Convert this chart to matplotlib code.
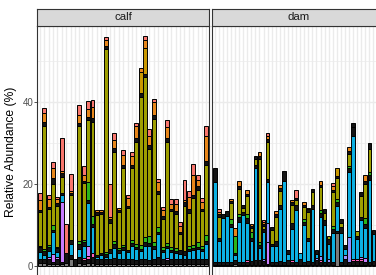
import numpy as np
import matplotlib.pyplot as plt

plt.rcParams['font.family'] = ['Liberation Sans', 'DejaVu Sans']

# --- data: relative abundance (%) per taxon, one value per sample ---
panels = ["calf", "dam"]
taxa = ["gray", "dk1", "pink", "violet", "lavender", "cyan", "dk2",
        "green", "olive", "dk3", "golden", "orange", "salmon"]
colors = {"gray": "#7A7A7A", "dk1": "#141414", "pink": "#FF62BC",
          "violet": "#C77CFF", "lavender": "#9590FF", "cyan": "#0CB0E2",
          "dk2": "#141414", "green": "#2BB51A", "olive": "#9E9E00",
          "dk3": "#141414", "golden": "#C99800", "orange": "#E7861A",
          "salmon": "#F8766D"}

calf_gray = [.8, .8, .6, .6, .6, .4, .8, 1.6, 0, .8, .6, .8, .8, .6, .6, .6, .6, .6, .6, .6,
             .6, .6, .6, .6, .6, .6, .6, .6, .6, .4, .6, .6, .6, .6, .6, .6, .6, .6, .6]
calf_dk1 = [1, 1, 1.2, .5, 1, .6, 2.3, 1, 1.6, 1.4, .8, .8, 1.5, 1, 1.2, 1, 1, 1.4, 1, 1.2,
            1.2, 1.2, .8, 1, 1, .8, 1, 1.5, 1, 1, 1.2, 1, 1, 1, 1, 1, 1, 1, 1.2]
calf_pink = [0, 0, 0, 0, 0, 0, 0, 0, 0, 0, .6, .8, .8, 0, 0, 0, 0, 0, 0, 0,
             0, 0, 0, 0, 0, 0, 0, 0, 0, 0, 0, 0, 0, 0, 0, 0, 0, 0, 0]
calf_violet = [0, 0, .4, 1.8, .6, 14.7, 0, 0, 0, 0, 0, 2.5, 0, 0, 0, 0, 0, 0, 0, 0,
               0, 0, 0, 0, 0, 0, 0, 0, 0, .6, 0, 0, 0, 0, 0, 0, 0, 0, 0]
calf_lavender = [0] * 39
calf_cyan = [1.6, .8, 1.5, 5.3, 1.3, 1.6, 0, 2.8, 0, 2, 3, 10.5, 6.5, .6, .8, .6, 1.5, 2.4, 1.5, 2,
             1.5, 3.2, 2.7, 2, 3.4, 3.4, 2.5, 5.7, 1.8, 2.4, 1.5, 1.5, 1.4, 1.2, 2, 2.2, 2.5, 2, 3.6]
calf_dk2 = [1.2, 1, 1, .6, .8, .5, 0, 1, 0, 1.2, .8, .6, .6, .6, .5, .8, 1, 1, .8, .8,
            .6, .6, .6, .6, .8, .8, .8, .6, .6, .6, .6, .6, .8, .8, .6, .6, .6, .6, .8]
calf_green = [.4, .6, .5, 1.2, .4, 0, 0, 0, 0, .6, .6, 4.5, 2, 0, 0, .4, 0, .8, .4, .6,
              0, .8, .6, 1, 1.2, 1.6, 1, 1, .6, .6, .8, .6, 0, 0, .8, .8, 1.2, .6, 1.4]
calf_olive = [8.2, 30, 8.6, 10, 10, 4, 0, 10.8, 0, 28.1, 13.8, 15, 22.8, 9.7, 9.6, 49.4, 6.4, 21.5, 8.8, 18.8,
              10.3, 17.6, 25, 36, 39, 21.4, 30, 8.2, 6.9, 24.6, 8.6, 8.5, 4, 11, 8, 11.4, 12.7, 8.5, 17]
calf_dk3 = [.4, .8, .5, 1.4, .6, .8, 0, .5, 0, .8, .6, .8, 1, .6, .5, .8, 1, 1, .5, .6,
            .5, .6, .8, 1, .8, 1, 1, .6, .6, 1, .6, .6, .6, 1, .8, .8, .8, .6, 1]
calf_golden = [0, 0, 0, 0, 0, 0, 0, 0, 0, 0, 0, 0, 0, 0, 0, 0, 0, 0, 0, 0,
               0, 0, 0, 5, 6.3, 0, 0, 0, 0, 0, 0, 0, 0, 0, 0, 0, 0, 0, 0]
calf_orange = [2.5, 2.2, 2, 2.5, 1, .5, 0, .5, 0, 2, 1.5, 1.9, 2.8, .6, .5, 1.4, .5, 2, .5, 2.5,
               1.8, 2.3, 3, 1, 2, 2.2, 3, 2.2, 1.5, 2.6, 1.2, 1.8, 1.3, .5, 3, 4.8, 1.6, 1.6, 6]
calf_salmon = [1.8, 1.4, 1, 1.5, .6, 8, 7.1, 4.2, 0, 2.4, 2.1, 2, 1.6, 0, 0, .8, 7.9, 1.8, 0, 1.2,
               .7, .8, .7, 0, 1, 1.5, .8, .9, .7, 1.8, 1.2, 1.2, 1, 4.8, 1.6, 2.6, 1.2, 1.2, 2.5]

dam_gray = [.2, .2, .2, .2, .2, .4, .2, .2, .2, .2, .2, .2, .2, .2, .2, .2, .2, .2, .2, .2,
            .2, .2, .2, .2, .2, .2, .2, .2, .2, .2, 8, .2, .2, .2, .2, .2, .2, .2, .2, .2]
dam_dk1 = [.8, .8, .8, .8, .8, 1, .8, .8, .8, 1, 1.2, 1.2, 1, .4, .8, .8, 1, .8, 1.2, .8,
           .8, 1.4, .8, 1, .8, 1.2, .8, .8, .8, .8, .6, .8, 1.4, .8, 1, 1, 1, .8, .8, 1]
dam_pink = [0, 0, 0, 0, 0, 0, 0, 0, .4, 0, 0, 0, 0, 0, 0, 0, 0, 0, 0, .4,
            0, 0, 0, 0, 0, 0, .4, 0, 0, 0, 0, 0, 0, 0, .6, .6, .4, 0, 0, 0]
dam_violet = [0, 0, 0, 0, 0, 0, 0, 0, 0, 0, 0, 0, 0, 5.2, 0, 0, 0, 0, 0, 0,
              0, 0, 0, 0, 0, 0, 0, 0, 0, 0, 0, 0, 0, 0, 0, 0, .6, 1, 0, 0]
dam_lavender = [0, 0, 0, 0, 0, 0, 0, 0, 0, 0, 0, 0, .6, 4.8, 0, 0, 0, 0, 0, 0,
                0, 0, 0, 0, 0, .5, 1, 0, .8, 0, 0, 0, 1, 6, 0, 0, 0, 0, 0, 0]
dam_cyan = [19.6, 5, 10.8, 11.3, 8.5, 1.2, 9.8, 11.4, 9, 5, 22.6, 3, 6.4, 9.8, 3.8, 4, 12.8, 19.8, 1.5, 7.6,
            12.6, 1.5, 9, 4.8, 13, 1, 9.6, 9, 3.5, 7, 6, 7, 1.5, 16, 30, 4.8, 9, 7.2, 20, 6.5]
dam_dk2 = [3.4, .8, 1, 1.2, .8, .6, 1.2, .8, 1.4, .6, .6, .8, .8, .8, .6, 1, .8, 2.4, 1, 1.6,
           1.2, 0, .8, .8, .8, 1, 1, 1.2, 1.2, 1, 1, 1.4, 1, .8, 2, .8, .8, 1, 1.2, 1.2]
dam_green = [0, 0, 0, 0, 1.2, 4, .6, 0, .8, 1.4, 0, .6, 0, 0, 0, 0, 0, 0, 0, 0,
             0, 0, .6, 0, 0, 0, .6, 0, 0, .8, .8, 0, 0, .6, 0, 0, 0, 1.4, .8, 0]
dam_olive = [0, 5.2, 0, 0, 3.8, 0, 6.2, .9, 4.4, 1, 1.6, 20.4, .8, 9, 3.4, 6, 3.6, 0, 0, 4.4,
             1.4, 0, 3, 6.4, 3.3, 0, 5.6, 1.8, .8, 8.2, 5, 1.2, 0, 3, 0, 1.2, 5, 8.4, 5.6, 0]
dam_dk3 = [0, .6, 0, 0, .6, 0, .8, .8, .6, .5, .6, .7, .4, .8, .6, .6, .6, 0, 0, .6,
           .4, 0, .6, .6, .8, 0, .6, .8, 0, .6, .6, .8, 0, .7, 1, 0, 1, .8, 1.3, 0]
dam_golden = [0, 0, 0, 0, 0, 0, 0, 0, 0, 0, 0, 0, 0, 0, 0, 0, 0, 0, 0, 0,
              0, 0, 0, 0, 0, 0, 0, 0, 0, 0, 1.8, 0, 0, 0, 0, 0, 0, 0, 0, 0]
dam_orange = [0, .6, 0, 0, .4, 2, 1.2, 0, .9, .5, 0, 1, .5, .8, 0, .9, .8, 0, 0, .6,
              0, 0, .7, .3, 0, 0, 1, 0, 0, .8, 0, 0, 0, 1, 0, 0, 0, 1.4, 0, 0]
dam_salmon = [0, .6, 0, 0, 0, 0, 0, 0, 0, 0, 0, 0, .5, .6, 0, 0, 0, 0, 0, 0,
              1.9, 0, 0, 0, 0, 0, 0, 0, 0, .8, 0, 0, 0, 0, 0, 0, 0, 0, 0, 0]

calf = [calf_gray, calf_dk1, calf_pink, calf_violet, calf_lavender, calf_cyan, calf_dk2,
        calf_green, calf_olive, calf_dk3, calf_golden, calf_orange, calf_salmon]
dam = [dam_gray, dam_dk1, dam_pink, dam_violet, dam_lavender, dam_cyan, dam_dk2,
       dam_green, dam_olive, dam_dk3, dam_golden, dam_orange, dam_salmon]
n_slots = {"calf": 39, "dam": 42}   # dam panel runs past the right edge

# --- layout (pixel based, 376x275) ---
W, H = 376, 275
fig = plt.figure(figsize=(W / 100, H / 100), dpi=100)
ymin, ymax = -2.8, 58.6
panel_top, panel_bot = 25.7, 277.5
panel_w = 171.7
lefts = {"calf": 37.3, "dam": 212.3}

for name, series in zip(panels, [calf, dam]):
    left = lefts[name]
    ax = fig.add_axes([left / W, (H - panel_bot) / H, panel_w / W, (panel_bot - panel_top) / H])
    n = len(series[0])
    x = np.arange(n)
    bottom = np.zeros(n)
    for taxon, vals in zip(taxa, series):
        vals = np.array(vals, dtype=float)
        m = vals > 0
        if m.any():
            ax.bar(x[m], vals[m], bottom=bottom[m], width=0.9, color=colors[taxon],
                   edgecolor="black", linewidth=0.7, zorder=3)
        bottom += vals
    ax.set_xlim(-0.6, n_slots[name] - 0.4)
    ax.set_ylim(ymin, ymax)
    ax.set_xticks(np.arange(n_slots[name]))
    ax.set_yticks([0, 20, 40])
    ax.set_yticks([10, 30, 50], minor=True)
    ax.grid(True, which="major", color="#EBEBEB", linewidth=1.0, zorder=0)
    ax.grid(True, which="minor", axis="y", color="#EBEBEB", linewidth=0.5, zorder=0)
    ax.set_axisbelow(True)
    ax.tick_params(axis="x", length=0, labelbottom=False)
    ax.tick_params(axis="y", which="minor", length=0)
    if name == "calf":
        ax.tick_params(axis="y", which="major", length=2, width=0.6, color="#333333",
                       labelsize=7, labelcolor="#4D4D4D", pad=1)
        ax.set_ylabel("Relative Abundance (%)", fontsize=8.7, color="black", labelpad=4)
    else:
        ax.tick_params(axis="y", which="major", length=0, labelleft=False)
    for s in ax.spines.values():
        s.set_color("#333333")
        s.set_linewidth(0.8)

    # facet strip
    sax = fig.add_axes([left / W, (H - panel_top) / H, panel_w / W, (panel_top - 9.3) / H])
    sax.set_facecolor("#D9D9D9")
    sax.set_xticks([])
    sax.set_yticks([])
    for s in sax.spines.values():
        s.set_color("#333333")
        s.set_linewidth(0.8)
    sax.text(0.5, 0.5, name, ha="center", va="center", fontsize=8.2, color="#1A1A1A",
             transform=sax.transAxes)

fig.savefig("out.png", dpi=100)
